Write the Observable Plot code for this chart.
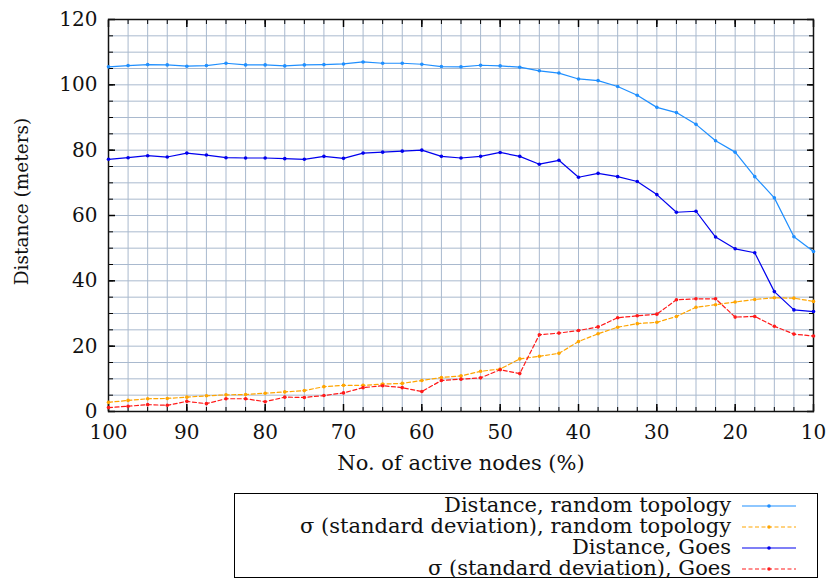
<!DOCTYPE html>
<html><head><meta charset="utf-8">
<script src="https://cdn.jsdelivr.net/npm/d3@7"></script>
<script src="https://cdn.jsdelivr.net/npm/@observablehq/plot@0.6"></script>
<style>
body{margin:0;background:#fff;font-family:"DejaVu Serif","Liberation Serif",serif;}
#wrap{position:relative;width:830px;height:581px;}
#legend{position:absolute;left:234px;top:493px;width:584px;height:85px;border:1.5px solid #000;box-sizing:border-box;background:#fff;}
.row{position:absolute;left:0;height:21px;width:100%;}
.row span{position:absolute;right:86px;top:0;font-size:21px;line-height:21px;white-space:nowrap;color:#111;}
.row svg{position:absolute;left:505px;top:0;}
</style></head>
<body><div id="wrap"><div id="chart"></div><div id="legend"></div></div>
<script>
const nodesPct = [100,97.5,95,92.5,90,87.5,85,82.5,80,77.5,75,72.5,70,67.5,65,62.5,60,57.5,55,52.5,50,47.5,45,42.5,40,37.5,35,32.5,30,27.5,25,22.5,20,17.5,15,12.5,10];
const distRandom = [105.5,105.9,106.2,106.1,105.7,105.9,106.6,106.1,106.1,105.8,106.1,106.2,106.4,107.0,106.6,106.6,106.3,105.6,105.5,106.0,105.8,105.4,104.3,103.6,101.8,101.3,99.5,96.8,93.1,91.5,87.9,82.9,79.4,71.9,65.4,53.5,49.0];
const sdRandom = [2.8,3.4,3.9,4.0,4.4,4.8,5.1,5.2,5.6,6.0,6.4,7.6,8.0,8.0,8.4,8.6,9.5,10.4,10.9,12.3,13.0,16.1,16.9,17.8,21.4,23.8,25.8,26.9,27.3,29.1,31.9,32.7,33.5,34.3,34.8,34.7,33.7];
const distGoes = [77.2,77.7,78.3,77.9,79.1,78.5,77.7,77.6,77.6,77.4,77.2,78.1,77.5,79.1,79.4,79.7,80.0,78.1,77.6,78.1,79.3,78.1,75.7,76.9,71.7,72.9,71.9,70.4,66.4,61.0,61.3,53.4,49.8,48.6,36.7,31.1,30.6];
const sdGoes = [1.2,1.6,2.1,1.9,3.1,2.4,3.9,3.9,3.0,4.4,4.3,4.9,5.7,7.3,7.9,7.3,6.1,9.5,9.9,10.3,12.8,11.6,23.5,24.0,24.8,25.9,28.7,29.3,29.8,34.2,34.5,34.5,28.9,29.1,26.1,23.7,23.1];
const seriesNames = ["Distance, random topology","σ (standard deviation), random topology","Distance, Goes","σ (standard deviation), Goes"];
const seriesValues = [distRandom, sdRandom, distGoes, sdGoes];
const seriesColors = ["#1f8fff","#ffa500","#0000ee","#ff1a1a"];
const seriesDash = [null,"4,2.5",null,"4,2.5"];
const xMajorTicks = [100,90,80,70,60,50,40,30,20,10];
const yMajorTicks = [0,20,40,60,80,100,120];
const xGrid = d3.range(10, 100.001, 2.5);
const yGrid = d3.range(0, 120.001, 5);

const font = '"DejaVu Serif","Liberation Serif",serif';
const gridColor = "#a9b9ce";
const marks = [
  Plot.gridX(xGrid, {stroke: gridColor, strokeOpacity: 1, strokeWidth: 1}),
  Plot.gridY(yGrid, {stroke: gridColor, strokeOpacity: 1, strokeWidth: 1}),
  Plot.axisX(xGrid, {anchor: "bottom", tickSize: -4, tickFormat: () => "", label: null}),
  Plot.axisX(xGrid, {anchor: "top", tickSize: -4, tickFormat: () => "", label: null}),
  Plot.axisY(yGrid, {anchor: "left", tickSize: -5, tickFormat: () => "", label: null}),
  Plot.axisY(yGrid, {anchor: "right", tickSize: -5, tickFormat: () => "", label: null}),
  Plot.axisX(xMajorTicks, {anchor: "bottom", tickSize: -7, tickFormat: () => "", label: null, strokeWidth: 1.5}),
  Plot.axisX(xMajorTicks, {anchor: "top", tickSize: -7, tickFormat: () => "", label: null, strokeWidth: 1.5}),
  Plot.axisY(yMajorTicks, {anchor: "left", tickSize: -7, tickFormat: () => "", label: null, strokeWidth: 1.5}),
  Plot.axisY(yMajorTicks, {anchor: "right", tickSize: -7, tickFormat: () => "", label: null, strokeWidth: 1.5}),
  Plot.axisX(xMajorTicks, {anchor: "bottom", tickSize: 0, tickPadding: 13, fontSize: 20, fill: "#111",
    label: null}),
  Plot.axisY(yMajorTicks, {anchor: "left", tickSize: 0, tickPadding: 11, fontSize: 20, fill: "#111",
    label: null}),
  Plot.text(["No. of active nodes (%)"], {frameAnchor: "bottom", dy: 58, fontSize: 21, fill: "#111"}),
  Plot.text(["Distance (meters)"], {frameAnchor: "left", textAnchor: "middle", dx: -86, dy: -14, rotate: -90, fontSize: 18.5, fill: "#111"}),
  Plot.frame({stroke: "#111", strokeWidth: 1.5})
];
seriesNames.forEach((name, i) => {
  const rows = nodesPct.map((x, j) => ({x, y: seriesValues[i][j]}));
  marks.push(Plot.line(rows, {x: "x", y: "y", stroke: seriesColors[i], strokeWidth: 1.2, strokeDasharray: seriesDash[i]}));
  marks.push(Plot.dot(rows, {x: "x", y: "y", fill: seriesColors[i], r: 1.8}));
});

const chart = Plot.plot({
  width: 830, height: 487,
  marginLeft: 108, marginRight: 17, marginTop: 19, marginBottom: 76,
  style: {fontFamily: font, fontSize: "20px", background: "#fff", overflow: "visible"},
  x: {domain: [100, 10], axis: null},
  y: {domain: [0, 120], axis: null},
  marks
});
document.getElementById("chart").appendChild(chart);

const legend = document.getElementById("legend");
seriesNames.forEach((name, i) => {
  const row = document.createElement("div");
  row.className = "row";
  row.style.top = (1 + i * 21) + "px";
  const span = document.createElement("span");
  span.textContent = name;
  row.appendChild(span);
  const svg = d3.create("svg").attr("width", 58).attr("height", 21);
  svg.append("line").attr("x1", 2).attr("x2", 56).attr("y1", 11).attr("y2", 11)
    .attr("stroke", seriesColors[i]).attr("stroke-width", 1.2)
    .attr("stroke-dasharray", seriesDash[i]);
  svg.append("circle").attr("cx", 29).attr("cy", 11).attr("r", 1.8).attr("fill", seriesColors[i]);
  row.appendChild(svg.node());
  legend.appendChild(row);
});
</script></body></html>
